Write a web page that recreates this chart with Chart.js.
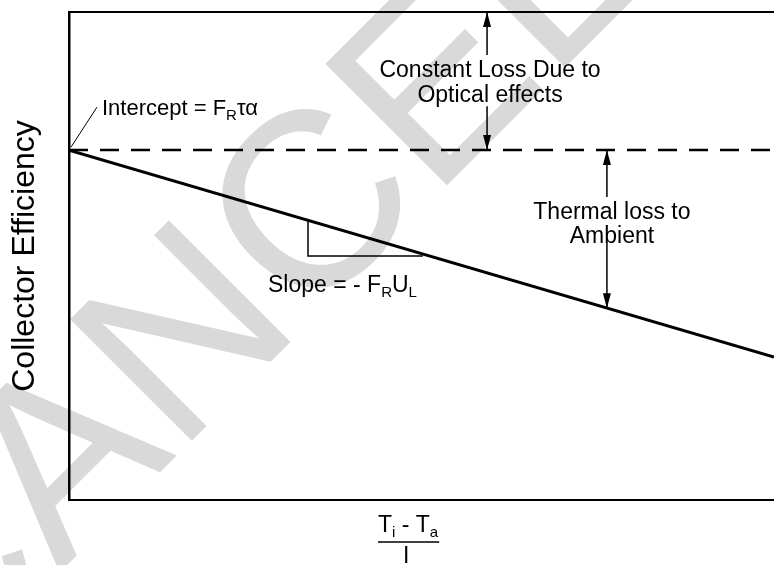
<!DOCTYPE html>
<html>
<head>
<meta charset="utf-8">
<script src="https://cdn.jsdelivr.net/npm/chart.js@4.4.0/dist/chart.umd.min.js"></script>
<style>
  html, body { margin: 0; padding: 0; background: #fff; }
  canvas { display: block; }
</style>
</head>
<body>
<canvas id="chart" width="774" height="565"></canvas>
<script>
// axes are normalised 0..1, no tick values on the original figure
const lossParam = [0, 1];
const efficiency = [0.717, 0.293];
const opticalLimit = [0.717, 0.717];

const slopeTriX = [0.339, 0.339, 0.502];
const slopeTriY = [0.573, 0.5, 0.5];

// arrow shafts are split where the label sits (null = gap)
const opticalArrowX = [0.593, 0.593, 0.593, 0.593, 0.593];
const opticalArrowY = [1, 0.912, null, 0.807, 0.717];
const thermalArrowX = [0.763, 0.763, 0.763, 0.763, 0.763];
const thermalArrowY = [0.717, 0.621, null, 0.527, 0.393];

const yTitle = "Collector Efficiency";
const opticalLabel = ["Constant Loss Due to", "Optical effects"];
const thermalLabel = ["Thermal loss to", "Ambient"];
const watermark = "CANCELLED";

const FONT = "'Liberation Sans', Arial, Helvetica, sans-serif";

function toPoints(xs, ys) {
    return xs.map((x, i) => ({ x: x, y: ys[i] }));
}

function lineSet(xs, ys, width, dash) {
    return {
        data: toPoints(xs, ys),
        borderColor: "#000",
        borderWidth: width,
        borderDash: dash || [],
        pointRadius: 0,
        spanGaps: false,
        tension: 0,
    };
}

// draws each part, subscripts smaller and lowered; returns x after the last one
function textWithSub(ctx, parts, x, y, size) {
    let cx = x;
    parts.forEach((p) => {
        const sub = p[1];
        ctx.font = (sub ? Math.round(size * 0.66) : size) + "px " + FONT;
        ctx.fillText(p[0], cx, sub ? y + size * 0.22 : y);
        cx += ctx.measureText(p[0]).width;
    });
    return cx;
}

function arrowHead(ctx, x, y, dir) {
    // dir = -1 points up, 1 points down; (x,y) is the tip
    const len = 15, half = 4;
    ctx.beginPath();
    ctx.moveTo(x, y);
    ctx.lineTo(x - half, y - dir * len);
    ctx.lineTo(x + half, y - dir * len);
    ctx.closePath();
    ctx.fill();
}

const figurePlugin = {
    id: "figure",
    beforeDraw(chart) {
        const ctx = chart.ctx;
        ctx.save();
        ctx.fillStyle = "#fff";
        ctx.fillRect(0, 0, chart.width, chart.height);

        // faint diagonal stamp behind the figure, centred on its 2nd "C"
        ctx.translate(305, 200);
        ctx.rotate(-45 * Math.PI / 180);
        ctx.font = "250px " + FONT;
        ctx.fillStyle = "#d9d9d9";
        const before = ctx.measureText("CAN").width + ctx.measureText("C").width / 2;
        ctx.fillText(watermark, -before, 90);
        ctx.restore();
    },
    afterDatasetsDraw(chart) {
        const ctx = chart.ctx;
        const xs = chart.scales.x, ys = chart.scales.y;
        ctx.save();
        ctx.fillStyle = "#000";
        ctx.strokeStyle = "#000";

        // arrow heads at both ends of each split arrow
        [3, 4].forEach((i) => {
            const pts = chart.getDatasetMeta(i).data;
            const first = pts[0], last = pts[pts.length - 1];
            arrowHead(ctx, first.x, first.y, first.y < last.y ? -1 : 1);
            arrowHead(ctx, last.x, last.y, last.y > first.y ? 1 : -1);
        });

        // labels between the arrow shafts
        ctx.textAlign = "center";
        ctx.textBaseline = "alphabetic";
        ctx.font = "23px " + FONT;
        const ox = xs.getPixelForValue(opticalArrowX[0]) + 3;
        ctx.fillText(opticalLabel[0], ox, 77);
        ctx.fillText(opticalLabel[1], ox, 102);
        const tx = xs.getPixelForValue(thermalArrowX[0]) + 5;
        ctx.fillText(thermalLabel[0], tx, 219);
        ctx.fillText(thermalLabel[1], tx, 243);

        // intercept callout
        ctx.textAlign = "left";
        const ix = xs.getPixelForValue(0), iy = ys.getPixelForValue(efficiency[0]);
        ctx.lineWidth = 1;
        ctx.beginPath();
        ctx.moveTo(ix + 2, iy - 3);
        ctx.lineTo(ix + 28, iy - 43);
        ctx.stroke();
        textWithSub(ctx, [["Intercept = F", false], ["R", true], ["\u03C4\u03B1", false]], ix + 33, 115, 22);

        // slope label under the small triangle
        textWithSub(ctx, [["Slope = - F", false], ["R", true], ["U", false], ["L", true]],
            xs.getPixelForValue(slopeTriX[0]) - 40, 292, 23);

        // x-axis title as a fraction (Ti - Ta) / I
        const fx = 378, fy = 532;
        const endX = textWithSub(ctx, [["T", false], ["i", true], [" - T", false], ["a", true]], fx, fy, 23);
        ctx.lineWidth = 1.5;
        ctx.beginPath();
        ctx.moveTo(fx, 542);
        ctx.lineTo(endX + 1, 542);
        ctx.stroke();
        ctx.textAlign = "center";
        ctx.font = "23px " + FONT;
        ctx.fillText("I", (fx + endX) / 2 - 2, 563);
        ctx.restore();
    },
};

const hiddenTicks = { display: false };
const edgeGrid = { display: true, drawOnChartArea: false, drawTicks: false };
const edgeBorder = { display: true, color: "#000", width: 2 };

new Chart(document.getElementById("chart"), {
    type: "line",
    data: {
        datasets: [
            lineSet(lossParam, opticalLimit, 2.5, [19, 12]),
            lineSet(lossParam, efficiency, 3),
            lineSet(slopeTriX, slopeTriY, 1.5),
            lineSet(opticalArrowX, opticalArrowY, 1.5),
            lineSet(thermalArrowX, thermalArrowY, 1.5),
        ],
    },
    options: {
        responsive: false,
        animation: false,
        events: [],
        layout: { padding: { left: 0, top: 12, right: 0, bottom: 65 } },
        plugins: { legend: { display: false }, tooltip: { enabled: false } },
        scales: {
            x: {
                type: "linear", position: "bottom", min: 0, max: 1,
                ticks: hiddenTicks, grid: edgeGrid, border: edgeBorder,
            },
            xTop: {
                type: "linear", position: "top", min: 0, max: 1,
                ticks: hiddenTicks, grid: edgeGrid, border: edgeBorder,
            },
            y: {
                type: "linear", min: 0, max: 1,
                ticks: hiddenTicks, grid: edgeGrid,
                border: { display: true, color: "#000", width: 2.5 },
                title: {
                    display: true,
                    text: yTitle,
                    color: "#000",
                    font: { family: FONT, size: 32, lineHeight: 1 },
                    padding: { top: 9, bottom: 28 },
                },
            },
        },
    },
    plugins: [figurePlugin],
});
</script>
</body>
</html>
